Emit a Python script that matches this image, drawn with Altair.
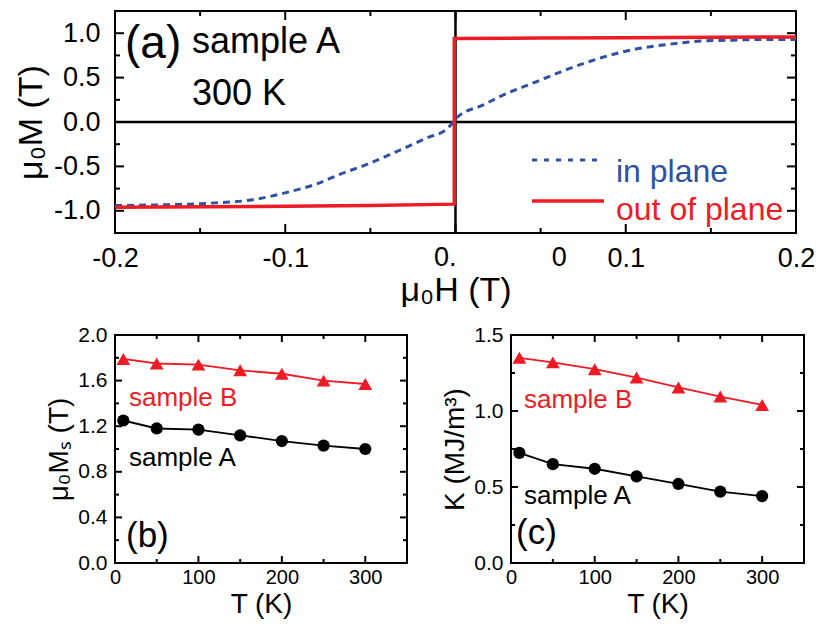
import altair as alt
import pandas as pd

# ---------------- data ----------------
# (a) hysteresis loops, sample A, 300 K
H_out = [-0.2, -0.1, -0.05, -0.0007, -0.0007, 0.05, 0.1, 0.2]
M_out = [-0.96, -0.95, -0.94, -0.925, 0.94, 0.945, 0.95, 0.958]

H_in = [-0.2, -0.174, -0.145, -0.120, -0.099, -0.081, -0.068, -0.052, -0.035, -0.017,
        -0.0045, 0.0013, 0.016, 0.0255, 0.047, 0.066, 0.086, 0.105, 0.125, 0.144,
        0.163, 0.183, 0.2]
M_in = [-0.941, -0.933, -0.915, -0.878, -0.793, -0.693, -0.589, -0.478, -0.337, -0.181,
        -0.07, 0.059, 0.189, 0.281, 0.45, 0.596, 0.726, 0.818, 0.874, 0.911,
        0.922, 0.93, 0.93]

legend_labels = ["in plane", "out of plane"]

# (b), (c) temperature dependence
T = [10, 50, 100, 150, 200, 250, 300]
Ms_A = [1.25, 1.18, 1.17, 1.12, 1.07, 1.03, 1.00]
Ms_B = [1.79, 1.75, 1.74, 1.69, 1.66, 1.60, 1.57]
K_A = [0.725, 0.65, 0.62, 0.57, 0.52, 0.47, 0.44]
K_B = [1.35, 1.32, 1.275, 1.22, 1.155, 1.095, 1.04]

# ticks / tick labels
a_x_labels = [-0.2, -0.1, 0.1, 0.2]
a_x_extra_text = ["0.", "0"]
a_x_extra_pos = [-0.006, 0.061]
a_x_major = [-0.1, 0.0, 0.1]
a_x_minor = [-0.15, -0.05, 0.05, 0.15]
a_y_labels = [-1.0, -0.5, 0.0, 0.5, 1.0]
a_y_major = [-1.0, -0.5, 0.5, 1.0]
a_y_minor = [-0.75, -0.25, 0.25, 0.75]

t_labels = [0, 100, 200, 300]
t_major = [100, 200, 300]
t_minor = [50, 150, 250]
b_y_labels = [0.0, 0.4, 0.8, 1.2, 1.6, 2.0]
b_y_major = [0.4, 0.8, 1.2, 1.6]
b_y_minor = [0.2, 0.6, 1.0, 1.4, 1.8]
c_y_labels = [0.0, 0.5, 1.0, 1.5]
c_y_major = [0.5, 1.0]
c_y_minor = [0.25, 0.75, 1.25]

# ---------------- style ----------------
FONT = "Liberation Sans"
RED = "#ed1c24"
BLUE = "#2d52a3"
WA, HA = 681, 222
WB, HB = 292, 228
WC = 293


def hyph(fmt):
    return (f"datum.value < 0 ? '-' + format(-datum.value, '{fmt}') "
            f": format(datum.value, '{fmt}')")


def tick_layer(vals, xs, ys, xax, yax, orient, length, W, H):
    df = pd.DataFrame({"v": vals})
    base = alt.Chart(df).mark_rule(color="black", strokeWidth=2)
    if orient in ("left", "right"):
        enc_v = alt.Y("v:Q", scale=ys, axis=yax)
        if orient == "left":
            return base.encode(y=enc_v, x=alt.value(0), x2=alt.value(length))
        return base.encode(y=enc_v, x=alt.value(W), x2=alt.value(W - length))
    enc_v = alt.X("v:Q", scale=xs, axis=xax)
    if orient == "bottom":
        return base.encode(x=enc_v, y=alt.value(H), y2=alt.value(H - length))
    return base.encode(x=enc_v, y=alt.value(0), y2=alt.value(length))


def all_ticks(xmaj, xmin, ymaj, ymin, xs, ys, xax, yax, W, H, lmaj, lmin):
    layers = []
    for o in ("bottom", "top"):
        layers.append(tick_layer(xmaj, xs, ys, xax, yax, o, lmaj, W, H))
        layers.append(tick_layer(xmin, xs, ys, xax, yax, o, lmin, W, H))
    for o in ("left", "right"):
        layers.append(tick_layer(ymaj, xs, ys, xax, yax, o, lmaj, W, H))
        layers.append(tick_layer(ymin, xs, ys, xax, yax, o, lmin, W, H))
    return layers


def note(text, x, y, size, color="black", align="left", baseline="alphabetic"):
    return alt.Chart(pd.DataFrame({"t": [text]})).mark_text(
        font=FONT, fontSize=size, color=color, align=align, baseline=baseline
    ).encode(x=alt.value(x), y=alt.value(y), text="t:N")


# ---------------- panel (a) ----------------
xA = alt.Scale(domain=[-0.2, 0.2], nice=False, zero=False)
yA = alt.Scale(domain=[-1.25, 1.25], nice=False, zero=False)
axXA = alt.Axis(values=a_x_labels, labelExpr=hyph(".1f"), labelFontSize=27, labelPadding=12,
                labelFlush=False, labelOverlap=False, title="μ₀H (T)", titleFontSize=34,
                titlePadding=2)
axYA = alt.Axis(values=a_y_labels, labelExpr=hyph(".1f"), labelFontSize=27, labelPadding=15,
                labelOverlap=False, title="μ₀M (T)", titleFontSize=34, titlePadding=5)

zero_h = alt.Chart(pd.DataFrame({"v": [0.0]})).mark_rule(color="black", strokeWidth=2.5).encode(
    y=alt.Y("v:Q", scale=yA, axis=axYA))
zero_v = alt.Chart(pd.DataFrame({"v": [0.0]})).mark_rule(color="black", strokeWidth=2.5).encode(
    x=alt.X("v:Q", scale=xA, axis=axXA))

in_df = pd.DataFrame({"H": H_in, "M": M_in, "i": list(range(len(H_in)))})
out_df = pd.DataFrame({"H": H_out, "M": M_out, "i": list(range(len(H_out)))})

blue = alt.Chart(in_df).mark_line(color=BLUE, strokeWidth=3, strokeDash=[7, 5],
                                  interpolate="monotone").encode(
    x=alt.X("H:Q", scale=xA, axis=axXA),
    y=alt.Y("M:Q", scale=yA, axis=axYA),
    order="i:Q")

red = alt.Chart(out_df).mark_line(color=RED, strokeWidth=3.5).encode(
    x=alt.X("H:Q", scale=xA, axis=axXA),
    y=alt.Y("M:Q", scale=yA, axis=axYA),
    order="i:Q")

extra = alt.Chart(pd.DataFrame({"p": a_x_extra_pos, "t": a_x_extra_text})).mark_text(
    font=FONT, fontSize=27, color="black", baseline="top", align="center").encode(
    x=alt.X("p:Q", scale=xA, axis=axXA), y=alt.value(HA + 12), text="t:N")

leg_df = pd.DataFrame({"t": legend_labels})
leg_blue = alt.Chart(leg_df.iloc[[0]]).mark_rule(color=BLUE, strokeWidth=3, strokeDash=[5, 7]).encode(
    x=alt.value(417), x2=alt.value(489), y=alt.value(149))
leg_red = alt.Chart(leg_df.iloc[[1]]).mark_rule(color=RED, strokeWidth=3.5).encode(
    x=alt.value(417), x2=alt.value(489), y=alt.value(190))
leg_t1 = alt.Chart(leg_df.iloc[[0]]).mark_text(font=FONT, fontSize=32, color=BLUE, align="left").encode(
    x=alt.value(501), y=alt.value(161), text="t:N")
leg_t2 = alt.Chart(leg_df.iloc[[1]]).mark_text(font=FONT, fontSize=32, color=RED, align="left").encode(
    x=alt.value(501), y=alt.value(199), text="t:N")

panel_a = alt.layer(
    zero_h, zero_v, blue, red, extra,
    *all_ticks(a_x_major, a_x_minor, a_y_major, a_y_minor, xA, yA, axXA, axYA, WA, HA, 9, 5),
    leg_blue, leg_red, leg_t1, leg_t2,
    note("(a)", 10, 47, 46),
    note("sample A", 77, 42, 36),
    note("300 K", 77, 94, 36),
).properties(width=WA, height=HA)


# ---------------- panels (b), (c) ----------------
xT = alt.Scale(domain=[0, 350], nice=False, zero=False)
axXT = alt.Axis(values=t_labels, format="d", labelFontSize=20, labelPadding=4,
                labelFlush=False, labelOverlap=False, title="T (K)", titleFontSize=28,
                titlePadding=3)


def temp_panel(yA_vals, yB_vals, ydom, ylabels, ymaj, ymin, ytitle, W, H, notes):
    ys = alt.Scale(domain=ydom, nice=False, zero=False)
    ax_y = alt.Axis(values=ylabels, format=".1f", labelFontSize=21, labelPadding=8,
                    labelOverlap=False, title=ytitle, titleFontSize=28, titlePadding=4)
    dfA = pd.DataFrame({"T": T, "v": yA_vals})
    dfB = pd.DataFrame({"T": T, "v": yB_vals})
    lineB = alt.Chart(dfB).mark_line(
        color=RED, strokeWidth=1.8,
        point=alt.OverlayMarkDef(shape="triangle-up", size=190, filled=True, color=RED, opacity=1)
    ).encode(
        x=alt.X("T:Q", scale=xT, axis=axXT),
        y=alt.Y("v:Q", scale=ys, axis=ax_y))
    lineA = alt.Chart(dfA).mark_line(
        color="black", strokeWidth=1.8,
        point=alt.OverlayMarkDef(shape="circle", size=150, filled=True, color="black", opacity=1)
    ).encode(
        x=alt.X("T:Q", scale=xT, axis=axXT),
        y=alt.Y("v:Q", scale=ys, axis=ax_y))
    return alt.layer(
        lineB, lineA,
        *all_ticks(t_major, t_minor, ymaj, ymin, xT, ys, axXT, ax_y, W, H, 7, 4),
        *notes,
    ).properties(width=W, height=H)


panel_b = temp_panel(Ms_A, Ms_B, [0, 2.0], b_y_labels, b_y_major, b_y_minor, "μ₀Mₛ (T)", WB, HB,
                     [note("sample B", 14, 71, 26, RED),
                      note("sample A", 14, 131, 26),
                      note("(b)", 11, 212, 35)])
panel_c = temp_panel(K_A, K_B, [0, 1.5], c_y_labels, c_y_major, c_y_minor, "K (MJ/m³)", WC, HB,
                     [note("sample B", 13, 73, 26, RED),
                      note("sample A", 13, 169, 26),
                      note("(c)", 5, 209, 35)])

bottom = alt.hconcat(panel_b, panel_c, spacing=104, bounds="flush")

chart = alt.vconcat(panel_a, bottom, spacing=102, bounds="flush").properties(
    padding={"left": 5, "top": 0, "right": 0, "bottom": 0}
).configure_view(stroke="black", strokeWidth=2).configure_axis(
    ticks=False, domain=False, grid=False, labelFont=FONT, titleFont=FONT,
    labelColor="black", titleColor="black", titleFontWeight="normal"
)

chart.save("out.html", embed_options={"renderer": "svg", "actions": False})
